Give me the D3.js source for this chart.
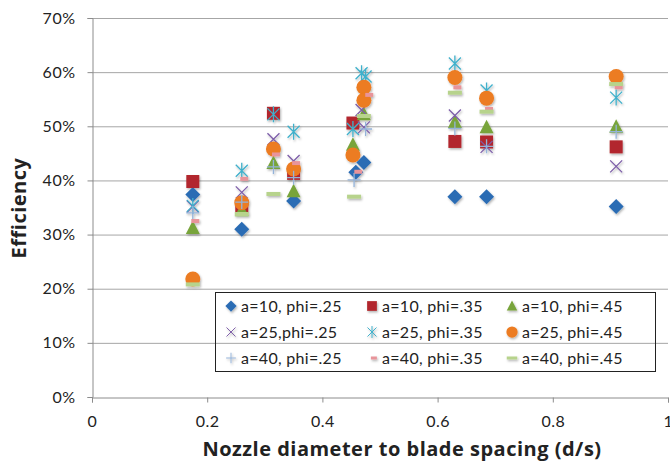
<!DOCTYPE html>
<html>
<head>
<meta charset="utf-8">
<script src="https://cdn.jsdelivr.net/npm/d3@7"></script>
<style>
  html, body { margin: 0; padding: 0; background: #fff; }
  svg { display: block; }
  text { font-family: Lato, "Open Sans", sans-serif; fill: #222; }
</style>
</head>
<body>
<svg id="chart" width="670" height="461"></svg>
<script>
// Efficiency vs nozzle diameter to blade spacing, one series per (a, phi) case.
// Each series is a list of [d/s, efficiency] points.
const a10_phi25 = [[0.175,0.374],[0.26,0.310],[0.35,0.362],[0.458,0.415],[0.472,0.433],[0.63,0.370],[0.685,0.370],[0.91,0.352]];
const a10_phi35 = [[0.175,0.398],[0.26,0.352],[0.315,0.524],[0.35,0.413],[0.453,0.506],[0.63,0.472],[0.685,0.471],[0.91,0.462]];
const a10_phi45 = [[0.175,0.312],[0.26,0.345],[0.315,0.432],[0.35,0.380],[0.453,0.466],[0.472,0.522],[0.63,0.508],[0.685,0.498],[0.91,0.499]];
const a25_phi25 = [[0.175,0.352],[0.26,0.378],[0.315,0.476],[0.35,0.436],[0.468,0.530],[0.472,0.498],[0.63,0.520],[0.685,0.462],[0.91,0.426]];
const a25_phi35 = [[0.175,0.353],[0.26,0.418],[0.315,0.522],[0.35,0.490],[0.453,0.495],[0.468,0.598],[0.475,0.592],[0.63,0.616],[0.685,0.566],[0.91,0.553]];
const a25_phi45 = [[0.175,0.218],[0.26,0.359],[0.315,0.458],[0.35,0.421],[0.453,0.447],[0.472,0.572],[0.472,0.548],[0.63,0.590],[0.685,0.552],[0.91,0.592]];
const a40_phi25 = [[0.175,0.340],[0.26,0.360],[0.315,0.425],[0.35,0.405],[0.455,0.401],[0.475,0.495],[0.63,0.496],[0.685,0.463],[0.91,0.490]];
const a40_phi35 = [[0.175,0.325],[0.26,0.403],[0.315,0.448],[0.35,0.432],[0.458,0.416],[0.477,0.558],[0.63,0.572],[0.685,0.532],[0.91,0.572]];
const a40_phi45 = [[0.175,0.208],[0.26,0.338],[0.315,0.375],[0.455,0.370],[0.472,0.519],[0.63,0.562],[0.685,0.527],[0.91,0.578]];

const seriesNames = ["a=10, phi=.25","a=10, phi=.35","a=10, phi=.45",
                     "a=25,phi=.25","a=25, phi=.35","a=25, phi=.45",
                     "a=40, phi=.25","a=40, phi=.35","a=40, phi=.45"];
const seriesData = [a10_phi25,a10_phi35,a10_phi45,a25_phi25,a25_phi35,a25_phi45,a40_phi25,a40_phi35,a40_phi45];

const xTicks = [0, 0.2, 0.4, 0.6, 0.8, 1];
const yTicks = [0, 0.1, 0.2, 0.3, 0.4, 0.5, 0.6, 0.7];
const xTitle = "Nozzle diameter to blade spacing (d/s)";
const yTitle = "Efficiency";

// marker styling per series
const markerKind = ["diamond","square","triangle","cross","star","circle","plus","shortDash","longDash"];
const markerColor = ["#2c6cb4","#b2282d","#78a43a","#7d5ea9","#3fb0cb","#ec7b20","#94b3d9","#e8949a","#b7d38c"];

const svg = d3.select("#chart");
const x = d3.scaleLinear().domain([0, 1]).range([92, 668]);
const y = d3.scaleLinear().domain([0, 0.7]).range([397, 18]);

const defs = svg.append("defs");
const f = defs.append("filter").attr("id","shadow").attr("x","-50%").attr("y","-50%").attr("width","200%").attr("height","200%");
f.append("feDropShadow").attr("dx",1).attr("dy",1.5).attr("stdDeviation",1).attr("flood-color","#000").attr("flood-opacity",0.3);

// horizontal gridlines
svg.append("g").selectAll("line").data(yTicks.filter(d => d > 0)).join("line")
  .attr("x1", x(0)).attr("x2", x(1))
  .attr("y1", d => y(d) + 0.5).attr("y2", d => y(d) + 0.5)
  .attr("stroke", "#a6a6a6").attr("stroke-width", 1);

const tickFont = "Lato, 'Open Sans', sans-serif";

// y axis
const yAxis = svg.append("g").attr("transform", `translate(${x(0) + 0.5},0)`)
  .call(d3.axisLeft(y).tickValues(yTicks).tickFormat(d3.format(".0%")).tickSize(5).tickPadding(12));
yAxis.select(".domain").attr("stroke", "#8c8c8c");
yAxis.selectAll(".tick line").attr("stroke", "#8c8c8c");
yAxis.selectAll(".tick text").attr("font-size", 16).attr("letter-spacing", 0.5).attr("fill", "#222")
  .attr("font-family", tickFont);

// x axis
const xAxis = svg.append("g").attr("transform", `translate(0,${y(0) + 0.5})`)
  .call(d3.axisBottom(x).tickValues(xTicks).tickFormat(d => d3.format("")(d)).tickSize(5).tickPadding(13));
xAxis.select(".domain").attr("stroke", "#8c8c8c");
xAxis.selectAll(".tick line").attr("stroke", "#8c8c8c");
xAxis.selectAll(".tick text").attr("font-size", 16).attr("letter-spacing", 0.5).attr("fill", "#222")
  .attr("font-family", tickFont);

// axis titles
svg.append("text").attr("x", 402).attr("y", 456)
  .attr("text-anchor", "middle").attr("font-size", 20).attr("font-weight", "bold").attr("letter-spacing", 0.5)
  .style("font-family", "'Open Sans', sans-serif").text(xTitle);
svg.append("text").attr("transform", "translate(26,208) rotate(-90)")
  .attr("text-anchor", "middle").attr("font-size", 20).attr("font-weight", "bold").attr("letter-spacing", 0.5)
  .style("font-family", "'Open Sans', sans-serif").text(yTitle);

// draw a single marker centred at (cx, cy)
function drawMarker(g, kind, color, cx, cy, scale) {
  const s = scale || 1;
  const m = g.append("g").attr("transform", `translate(${cx},${cy}) scale(${s})`);
  switch (kind) {
    case "diamond":
      m.append("path").attr("d", "M0,-7.5L7.5,0L0,7.5L-7.5,0Z").attr("fill", color); break;
    case "square":
      m.append("rect").attr("x", -6.5).attr("y", -6.5).attr("width", 13).attr("height", 13).attr("fill", color); break;
    case "triangle":
      m.append("path").attr("d", "M0,-7.5L7,6L-7,6Z").attr("fill", color); break;
    case "circle":
      m.append("circle").attr("r", 7.5).attr("fill", color); break;
    case "cross":
      m.append("path").attr("d", "M-6,-6L6,6M6,-6L-6,6").attr("stroke", color).attr("stroke-width", 1.3).attr("fill", "none"); break;
    case "star":
      m.append("path").attr("d", "M-6,-6L6,6M6,-6L-6,6M0,-8L0,8").attr("stroke", color).attr("stroke-width", 1.3).attr("fill", "none"); break;
    case "plus":
      m.append("path").attr("d", "M-6.5,0L6.5,0M0,-7L0,7").attr("stroke", color).attr("stroke-width", 1.3).attr("fill", "none"); break;
    case "shortDash":
      m.append("rect").attr("x", -1.5).attr("y", -2).attr("width", 8).attr("height", 4).attr("fill", color); break;
    case "longDash":
      m.append("rect").attr("x", -7).attr("y", -2).attr("width", 14).attr("height", 4).attr("fill", color); break;
  }
  return m;
}

// data markers, drawn series by series
const plot = svg.append("g").attr("filter", "url(#shadow)");
seriesData.forEach((pts, i) => {
  const g = plot.append("g").attr("class", "series");
  pts.forEach(([dx, dy]) => drawMarker(g, markerKind[i], markerColor[i], x(dx), y(dy)));
});

// legend (no background fill, gridline shows through)
const legend = svg.append("g");
legend.append("rect").attr("x", 215.5).attr("y", 292.5).attr("width", 440).attr("height", 79)
  .attr("fill", "none").attr("stroke", "#222").attr("stroke-width", 1);
const colX = [231, 372, 512];
const rowY = [306, 332, 358];
const lg = legend.append("g").attr("filter", "url(#shadow)");
seriesNames.forEach((name, i) => {
  const cx = colX[i % 3], cy = rowY[Math.floor(i / 3)];
  drawMarker(lg, markerKind[i], markerColor[i], cx, cy, 0.75);
  legend.append("text").attr("x", cx + 10).attr("y", cy + 6)
    .attr("font-size", 16).attr("letter-spacing", 0.3).text(name);
});
</script>
</body>
</html>
